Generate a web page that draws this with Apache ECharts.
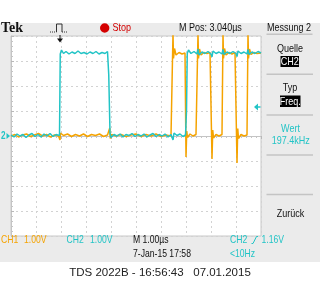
<!DOCTYPE html>
<html><head><meta charset="utf-8">
<script src="https://cdn.jsdelivr.net/npm/echarts@6/dist/echarts.min.js"></script>
<style>
html,body{margin:0;padding:0;background:#fff}
#c{width:320px;height:300px;background:linear-gradient(to bottom,#fff 0,#fff 23px,#ebebeb 23px,#ebebeb 262px,#fff 262px,#fff 300px)}
</style>
</head><body><div id="c"></div>
<script>
// CH1 (orange) trace: time in microseconds, voltage in volts
const ch1Time = [0.00,0.16,0.30,0.46,0.62,0.78,0.94,1.10,1.26,1.42,1.58,1.74,1.90,1.96,1.98,2.10,2.26,2.42,2.58,2.74,2.90,3.06,3.22,3.38,3.54,3.70,3.86,3.95,3.97,4.02,4.20,4.40,4.60,4.80,5.00,5.20,5.40,5.60,5.80,6.00,6.20,6.40,6.47,
  6.48,6.50,6.54,6.60,6.72,6.84,6.96,6.99,7.00,7.03,7.06,7.16,7.28,7.40,7.47,
  7.48,7.50,7.54,7.60,7.72,7.84,7.96,8.03,8.04,8.07,8.10,8.20,8.32,8.44,8.47,
  8.48,8.50,8.54,8.60,8.72,8.84,8.96,9.03,9.04,9.07,9.10,9.20,9.32,9.44,9.47,
  9.48,9.50,9.54,9.60,9.72,9.84,10.0];
const ch1Volt = [0.00,0.06,-0.04,0.04,0.08,-0.02,0.04,0.10,0.00,0.06,-0.04,0.04,0.00,-0.16,0.12,0.02,0.08,-0.02,0.06,0.00,0.08,-0.02,0.06,0.02,0.08,-0.02,0.04,0.32,-0.10,0.06,0.00,0.06,-0.02,0.04,0.08,-0.02,0.06,0.00,0.08,-0.02,0.04,0.00,0.00,
  4.10,3.10,3.50,3.24,3.34,3.28,3.32,3.30,-0.84,0.20,-0.06,0.08,0.00,0.06,0.00,
  4.10,3.10,3.48,3.24,3.34,3.30,3.34,3.30,-0.92,0.24,-0.08,0.06,0.00,0.06,0.02,
  4.10,3.10,3.50,3.24,3.34,3.28,3.34,3.30,-1.08,0.30,-0.10,0.06,0.00,0.04,0.00,
  4.10,3.10,3.48,3.26,3.34,3.30,3.32];

// CH2 (cyan) trace
const ch2Time = [0.00,0.12,0.24,0.36,0.48,0.60,0.72,0.84,0.96,1.08,1.20,1.32,1.44,1.56,1.68,1.80,1.94,
  1.97,2.02,2.10,2.20,2.32,2.44,2.56,2.68,2.80,2.92,3.04,3.16,3.28,3.40,3.52,3.64,3.76,3.86,3.90,3.91,3.94,3.96,
  4.00,4.12,4.24,4.36,4.48,4.60,4.72,4.84,4.96,5.08,5.20,5.32,5.44,5.56,5.68,5.80,5.92,6.04,6.16,6.28,6.40,6.48,6.52,6.64,6.76,6.88,6.98,
  7.02,7.05,7.10,7.20,7.32,7.44,7.48,7.52,7.64,7.76,7.88,8.00,8.04,8.08,8.20,8.32,8.44,8.48,8.52,8.64,8.76,8.88,9.00,9.04,9.08,9.20,9.32,9.44,9.48,9.52,9.64,9.76,9.88,10.0];
const ch2Volt = [0.04,-0.04,0.08,0.00,0.06,-0.06,0.04,0.10,-0.02,0.06,-0.04,0.08,0.00,0.10,-0.02,0.06,0.02,
  3.28,3.44,3.30,3.38,3.28,3.36,3.30,3.40,3.30,3.34,3.28,3.36,3.30,3.38,3.28,3.34,3.30,3.38,3.32,2.44,2.40,0.10,
  -0.06,0.06,0.00,0.08,-0.04,0.06,0.02,0.10,-0.02,0.06,0.00,0.08,-0.04,0.04,0.10,-0.02,0.06,0.00,0.08,-0.04,0.06,-0.16,0.12,0.02,0.08,-0.02,0.04,
  1.00,3.30,3.44,3.30,3.38,3.28,3.48,3.24,3.36,3.30,3.38,3.28,3.16,3.40,3.30,3.36,3.28,3.46,3.26,3.36,3.30,3.38,3.30,3.18,3.40,3.30,3.36,3.28,3.46,3.26,3.36,3.30,3.38,3.32];

const triggerLevel = 1.16;   // V (CH2)
const triggerTime = 1.96;    // µs
const xTicks = [0,1,2,3,4,5,6,7,8,9,10];
const yTicks = [-4,-3,-2,-1,0,1,2,3,4];

const C1 = '#f5a300', C2 = '#22c4c6';
const SANS = '"Liberation Sans",Arial,sans-serif';
const NARROW_SCALE = 0.82;

const zip = (t, v) => t.map((x, i) => [x, v[i]]);
const chart = echarts.init(document.getElementById('c'), null, {renderer: 'canvas'});

const ruler = {
  axisLine: {show: true, lineStyle: {color: '#c4c4c4', width: 1}},
  axisTick: {show: true, inside: true, length: 3, lineStyle: {color: '#b8b8b8'}},
  minorTick: {show: true, splitNumber: 5, length: 2, lineStyle: {color: '#c4c4c4'}},
  axisLabel: {show: false}, splitLine: {show: false}
};

chart.setOption({
  animation: false,
  grid: {left: 11, top: 36, width: 250, height: 200, show: true, backgroundColor: '#fff', borderColor: '#c8c8c8', borderWidth: 1},
  xAxis: [
    {type: 'value', min: xTicks[0], max: xTicks[xTicks.length - 1], interval: 1, position: 'bottom',
     axisLine: {show: false}, axisTick: {show: false}, axisLabel: {show: false},
     splitLine: {show: true, lineStyle: {color: '#d2d2d2', type: [2, 3], width: 1}}},
    Object.assign({type: 'value', min: 0, max: 10, interval: 1, position: 'top'}, ruler)
  ],
  yAxis: [
    {type: 'value', min: yTicks[0], max: yTicks[yTicks.length - 1], interval: 1, position: 'right',
     axisLine: {show: false}, axisTick: {show: false}, axisLabel: {show: false},
     splitLine: {show: true, lineStyle: {color: '#d2d2d2', type: [2, 3], width: 1}}},
    Object.assign({type: 'value', min: -4, max: 4, interval: 1, position: 'left'}, ruler)
  ],
  series: [
    {name: 'CH1', type: 'line', xAxisIndex: 0, yAxisIndex: 0, data: zip(ch1Time, ch1Volt), showSymbol: false,
     clip: true, lineStyle: {color: C1, width: 1.5}, z: 3},
    {name: 'CH2', type: 'line', xAxisIndex: 0, yAxisIndex: 0, data: zip(ch2Time, ch2Volt), showSymbol: false,
     clip: true, lineStyle: {color: C2, width: 1.5}, z: 4}
  ]
});

const zero = chart.convertToPixel({xAxisIndex: 0, yAxisIndex: 0}, [0, 0]);
const trg = chart.convertToPixel({xAxisIndex: 0, yAxisIndex: 0}, [triggerTime, triggerLevel]);
const gy = zero[1], ty = trg[1], tx = trg[0];

// narrow scope-style text: regular sans squeezed horizontally
function txt(text, x, y, fill, size, opts) {
  opts = opts || {};
  return {type: 'text', z: 100, x: x, y: y, scaleX: opts.scaleX || NARROW_SCALE, scaleY: 1,
    style: {text: text, x: 0, y: 0, fill: fill || '#111',
      font: opts.font || (size + 'px ' + SANS), align: opts.align || 'left', verticalAlign: 'middle'}};
}
function box(x, y, w, h, fill) { return {type: 'rect', z: 99, shape: {x: x, y: y, width: w, height: h}, style: {fill: fill}}; }

const g = [
  // top bar
  txt('Tek', 1, 28.5, '#111', 14, {scaleX: 1, font: 'bold 14px "Liberation Serif","DejaVu Serif",serif'}),
  {type: 'polyline', z: 100, shape: {points: [[50, 32], [56.5, 32]]}, style: {stroke: '#333', lineWidth: 1, lineDash: [1, 1]}},
  {type: 'polyline', z: 100, shape: {points: [[56.5, 32], [56.5, 24], [62, 24], [62, 32]]}, style: {stroke: '#333', lineWidth: 1, fill: null}},
  {type: 'polyline', z: 100, shape: {points: [[62, 32], [67, 32]]}, style: {stroke: '#333', lineWidth: 1, lineDash: [1, 1]}},
  {type: 'circle', z: 100, shape: {cx: 104.7, cy: 28, r: 4.7}, style: {fill: '#d40000'}},
  txt('Stop', 112.5, 28, '#d40000', 11),
  txt('M Pos: 3.040\u00b5s', 179, 28, '#111', 11),
  txt('Messung 2', 267, 28, '#111', 11),
  box(266.5, 33.5, 46, 1.5, '#c4c4c4'),
  // trigger position marker
  {type: 'line', z: 100, shape: {x1: tx, y1: 35, x2: tx, y2: 39}, style: {stroke: '#111', lineWidth: 1}},
  {type: 'polygon', z: 100, shape: {points: [[tx - 3, 38.5], [tx + 3, 38.5], [tx, 42.5]]}, style: {fill: '#111'}},
  // ground marker CH2
  txt('2', 1, gy, C2, 10, {font: 'bold 10px ' + SANS}),
  {type: 'polygon', z: 100, shape: {points: [[6.5, gy - 3], [10, gy], [6.5, gy + 3]]}, style: {fill: C2}},
  // trigger level marker
  {type: 'polygon', z: 100, shape: {points: [[254, ty], [258, ty - 3.5], [258, ty + 3.5]]}, style: {fill: C2}},
  {type: 'line', z: 100, shape: {x1: 257, y1: ty, x2: 260.5, y2: ty}, style: {stroke: C2, lineWidth: 1.5}},
  // right menu
  txt('Quelle', 290, 48.5, '#111', 11, {align: 'center'}),
  box(280.5, 56, 18.5, 11, '#000'),
  txt('CH2', 289.8, 61.7, '#fff', 11, {align: 'center'}),
  box(266.5, 73.5, 46.5, 1.5, '#c4c4c4'),
  txt('Typ', 290, 88, '#111', 11, {align: 'center'}),
  box(280, 95.5, 20.5, 11.5, '#000'),
  txt('Freq.', 290.3, 101.5, '#fff', 11, {align: 'center'}),
  box(266.5, 114.3, 46.5, 1.5, '#c4c4c4'),
  txt('Wert', 290.5, 128.5, C2, 11, {align: 'center'}),
  txt('197.4kHz', 290.8, 140.5, C2, 11, {align: 'center'}),
  box(266.5, 154.3, 46.5, 1.5, '#c4c4c4'),
  box(266.5, 193.7, 46.5, 1.5, '#c4c4c4'),
  txt('Zur\u00fcck', 290.5, 214, '#111', 11, {align: 'center'}),
  // status line
  txt('CH1', 1, 240, C1, 10.5),
  txt('1.00V', 24, 240, C1, 10.5),
  txt('CH2', 66.5, 240, C2, 10.5),
  txt('1.00V', 90, 240, C2, 10.5),
  txt('M 1.00\u00b5s', 133, 240, '#111', 10.5),
  txt('CH2', 230, 240, C2, 10.5),
  {type: 'polyline', z: 100, shape: {points: [[251.5, 243.5], [253, 243.5], [256.5, 236.5], [258, 236.5]]}, style: {stroke: C2, lineWidth: 1, fill: null}},
  txt('1.16V', 261.5, 240, C2, 10.5),
  txt('7-Jan-15 17:58', 133, 254.5, '#111', 10.5),
  txt('<10Hz', 230, 254.5, C2, 10.5),
  // caption
  txt('TDS 2022B - 16:56:43   07.01.2015', 160, 273, '#222', 11.5, {align: 'center', scaleX: 1.0, font: '11.5px ' + SANS})
];
chart.setOption({graphic: {elements: g}});
</script>
</body></html>
